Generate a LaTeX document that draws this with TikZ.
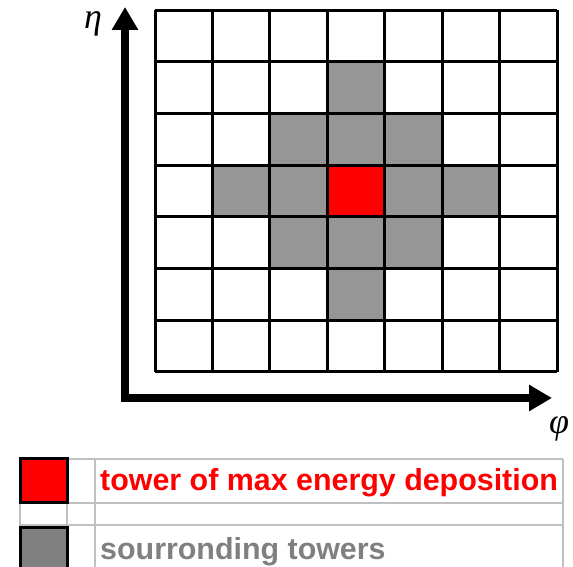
\documentclass[tikz,border=0pt]{standalone}
\usepackage{fontspec}
\newfontfamily\legendfont{Liberation Sans}
\newfontfamily\axisfont{Liberation Serif}
\usetikzlibrary{arrows.meta,positioning}
\definecolor{towerRed}{HTML}{FF0000}
\definecolor{towerGray}{HTML}{969696}
\definecolor{keyGray}{HTML}{808080}
\definecolor{ruleGray}{HTML}{C0C0C0}

\begin{document}
\begin{tikzpicture}[x=1pt, y=1pt,
    cellgrid/.style={draw=black, line width=3pt},
    axis/.style={line width=8pt, line join=miter,
                 {Triangle[width=25pt,length=23pt]}-{Triangle[width=25pt,length=23pt]}},
    axlabel/.style={inner sep=0pt, font=\axisfont\itshape\fontsize{36}{36}\selectfont},
    keybox/.style={draw=black, line width=3pt, minimum width=47pt,
                   minimum height=44pt, inner sep=0pt},
    keytext/.style={anchor=base west, inner sep=0pt,
                    font=\legendfont\bfseries\fontsize{30.4}{30.4}\selectfont},
    rulebar/.style={draw=ruleGray, line width=2pt}
]
\useasboundingbox (0,0) rectangle (573,567);

% towers (7x7 in eta-phi)
\begin{scope}[shift={(155,195)}, x=57.43pt, y=51.71pt]
  \foreach \c/\r in {3/1, 2/2,3/2,4/2, 1/3,2/3,4/3,5/3, 2/4,3/4,4/4, 3/5}
    \fill[towerGray] (\c,\r) rectangle ++(1,1);
  \fill[towerRed] (3,3) rectangle ++(1,1);
  \draw[cellgrid] (0,0) grid[step=1] (7,7);
\end{scope}

% axes
\coordinate (corner) at (125,169);
\coordinate (etatip) at (125,560);
\coordinate (phitip) at (552,169);
\draw[axis] (etatip) -- (corner) -- (phitip);
\node[axlabel] (etalabel) at (93,543) {η};
\node[axlabel] (philabel) at (559,138) {φ};

% legend table
\draw[rulebar] (20,108) -- (563,108);
\draw[rulebar] (20,64) -- (563,64);
\draw[rulebar] (20,42) -- (563,42);
\draw[rulebar] (20,108) -- (20,-5);
\draw[rulebar] (67,108) -- (67,-5);
\draw[rulebar] (95,108) -- (95,-5);
\draw[rulebar] (563,108) -- (563,-5);

\node[keybox, fill=towerRed] (maxkey) at (43.5,86) {};
\node[keybox, fill=keyGray, below=22pt of maxkey] (ringkey) {};
\node[keytext, text=towerRed] (maxtext) at (100,76) {tower of max energy deposition};
\node[keytext, text=keyGray] (ringtext) at (100,7) {sourronding towers};
\end{tikzpicture}
\end{document}
